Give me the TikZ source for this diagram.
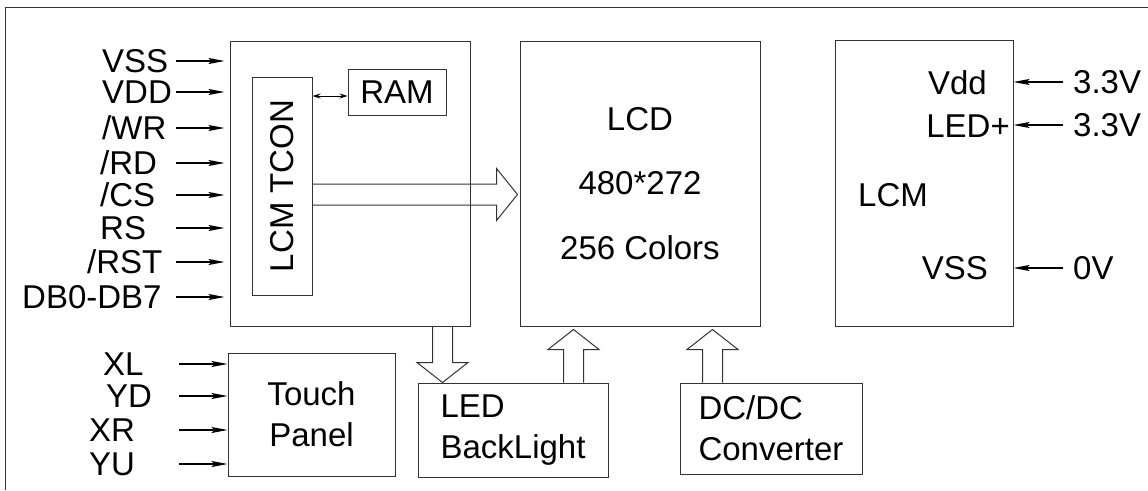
\documentclass[tikz,border=0pt]{standalone}
\usepackage{fontspec}
\setmainfont{Liberation Sans}
\usepackage{tikz}
\usetikzlibrary{positioning, arrows.meta, calc}
\definecolor{boxline}{HTML}{333333}

\tikzset{
  blk/.style={draw=boxline, line width=1pt, inner sep=0pt},
  lbl/.style={inner sep=0pt, text height=23pt, text depth=0pt},
  sig/.style={lbl, anchor=west},
  pin/.style={-{Stealth[length=16pt, width=6pt, inset=3pt]}, line width=1.3pt},
  fatarrow/.style={draw=boxline, line width=1pt, line join=miter},
}
% hollow vertical arrow: source, tip, signed offset of the head base
\newcommand{\fatv}[3]{%
  \draw[fatarrow] ($(#1)+(-10,0)$) -- ($(#2)+(-10,#3)$) -- ($(#2)+(-25.5,#3)$) -- (#2)
    -- ($(#2)+(25.5,#3)$) -- ($(#2)+(10,#3)$) -- ($(#1)+(10,0)$);}

\begin{document}
\begin{tikzpicture}[x=1pt, y=-1pt, font=\fontsize{33}{41}\selectfont]
  \useasboundingbox (0,0) rectangle (1148,490);
  \draw[boxline, line width=1pt] (1148,7) -| (5,490);

  % controller board
  \node[blk, minimum width=240pt, minimum height=285pt] (ctrl) at (350,183.5) {};
  \node[blk, minimum width=60pt, minimum height=218pt] (tcon) at (282,186) {};
  \node[rotate=90] (tconname) at (tcon) {LCM TCON};
  \node[blk, minimum width=98pt, minimum height=46pt] (ram) at (397,92) {RAM};
  \coordinate (ramport) at ($(ram.west)+(0,4)$);
  \draw[{Stealth[length=8pt, width=5pt]}-{Stealth[length=8pt, width=5pt]}, line width=1pt]
    (tcon.east |- ramport) -- (ramport);

  % panel and module
  \node[blk, minimum width=240pt, minimum height=285pt, align=center,
        font=\fontsize{33}{64.5}\selectfont, right=49pt of ctrl] (lcd)
    {LCD\\480*272\\256 Colors};
  \node[blk, minimum width=178pt, minimum height=286pt, right=74pt of lcd] (lcm) {};
  \node[lbl, anchor=east] (pvdd) at (987,83) {Vdd};
  \node[lbl, anchor=east] (pled) at (1010,126) {LED+};
  \node[lbl, anchor=west] (lcmname) at (858,195) {LCM};
  \node[lbl, anchor=east] (pvss) at (988,268) {VSS};
  \node[sig] (v1) at (1073,82) {3.3V};
  \node[sig] (v2) at (1073,125) {3.3V};
  \node[sig] (v3) at (1073,268) {0V};
  \draw[pin] (1063,0 |- v1) -- (lcm.east |- v1);
  \draw[pin] (1063,0 |- v2) -- (lcm.east |- v2);
  \draw[pin] (1063,0 |- v3) -- (lcm.east |- v3);

  % bus into the panel
  \coordinate (busin) at ($(tcon.east)+(0,8.5)$);
  \coordinate (bustip) at ($(lcd.west |- busin)+(-2,0)$);
  \draw[fatarrow] ($(busin)+(0,-10.5)$) -- ($(bustip)+(-21,-10.5)$) -- ($(bustip)+(-21,-26)$)
    -- (bustip) -- ($(bustip)+(-21,26)$) -- ($(bustip)+(-21,10.5)$) -- ($(busin)+(0,10.5)$);

  % lower blocks
  \node[blk, minimum width=167pt, minimum height=123pt, align=center] (touch) at (311.5,414.5)
    {Touch\\Panel};
  \node[blk, minimum width=190pt, minimum height=94pt, align=left] (led) at (513,430)
    {LED\\BackLight};
  \node[blk, minimum width=182pt, minimum height=91pt, align=left] (dcdc) at (771,428.5)
    {DC/DC\\Converter};

  \coordinate (blsrc) at ($(ctrl.south east)+(-28,0)$);
  \coordinate (bltip) at (blsrc |- led.north);
  \fatv{blsrc}{bltip}{-20}
  \coordinate (ledsrc) at ($(led.north east)+(-35,0)$);
  \coordinate (ledtip) at ($(ledsrc |- lcd.south)+(0,3)$);
  \fatv{ledsrc}{ledtip}{20}
  \coordinate (dcsrc) at ($(dcdc.north west)+(33,0)$);
  \coordinate (dctip) at ($(dcsrc |- lcd.south)+(0,3)$);
  \fatv{dcsrc}{dctip}{20}

  % interface signals
  \node[sig] (vss) at (102,61) {VSS};
  \node[sig] (vdd) at (102,92) {VDD};
  \node[sig] (wr) at (102,128) {/WR};
  \node[sig] (rd) at (100,163) {/RD};
  \node[sig] (cs) at (100,195) {/CS};
  \node[sig] (rs) at (100,228) {RS};
  \node[sig] (rst) at (87,262) {/RST};
  \node[sig] (db) at (22,297) {DB0-DB7};
  \draw[pin] (176,0 |- vss) -- ($(ctrl.west |- vss)+(-5,0)$);
  \draw[pin] (176,0 |- vdd) -- ($(ctrl.west |- vdd)+(-5,0)$);
  \draw[pin] (176,0 |- wr) -- ($(ctrl.west |- wr)+(-5,0)$);
  \draw[pin] (176,0 |- rd) -- ($(ctrl.west |- rd)+(-5,0)$);
  \draw[pin] (176,0 |- cs) -- ($(ctrl.west |- cs)+(-5,0)$);
  \draw[pin] (176,0 |- rs) -- ($(ctrl.west |- rs)+(-5,0)$);
  \draw[pin] (176,0 |- rst) -- ($(ctrl.west |- rst)+(-5,0)$);
  \draw[pin] (176,0 |- db) -- ($(ctrl.west |- db)+(-5,0)$);

  \node[sig] (xl) at (103,364) {XL};
  \node[sig] (yd) at (106,396) {YD};
  \node[sig] (xr) at (89,430) {XR};
  \node[sig] (yu) at (89,464) {YU};
  \draw[pin] (179,0 |- xl) -- (touch.west |- xl);
  \draw[pin] (179,0 |- yd) -- (touch.west |- yd);
  \draw[pin] (179,0 |- xr) -- (touch.west |- xr);
  \draw[pin] (179,0 |- yu) -- (touch.west |- yu);
\end{tikzpicture}
\end{document}
